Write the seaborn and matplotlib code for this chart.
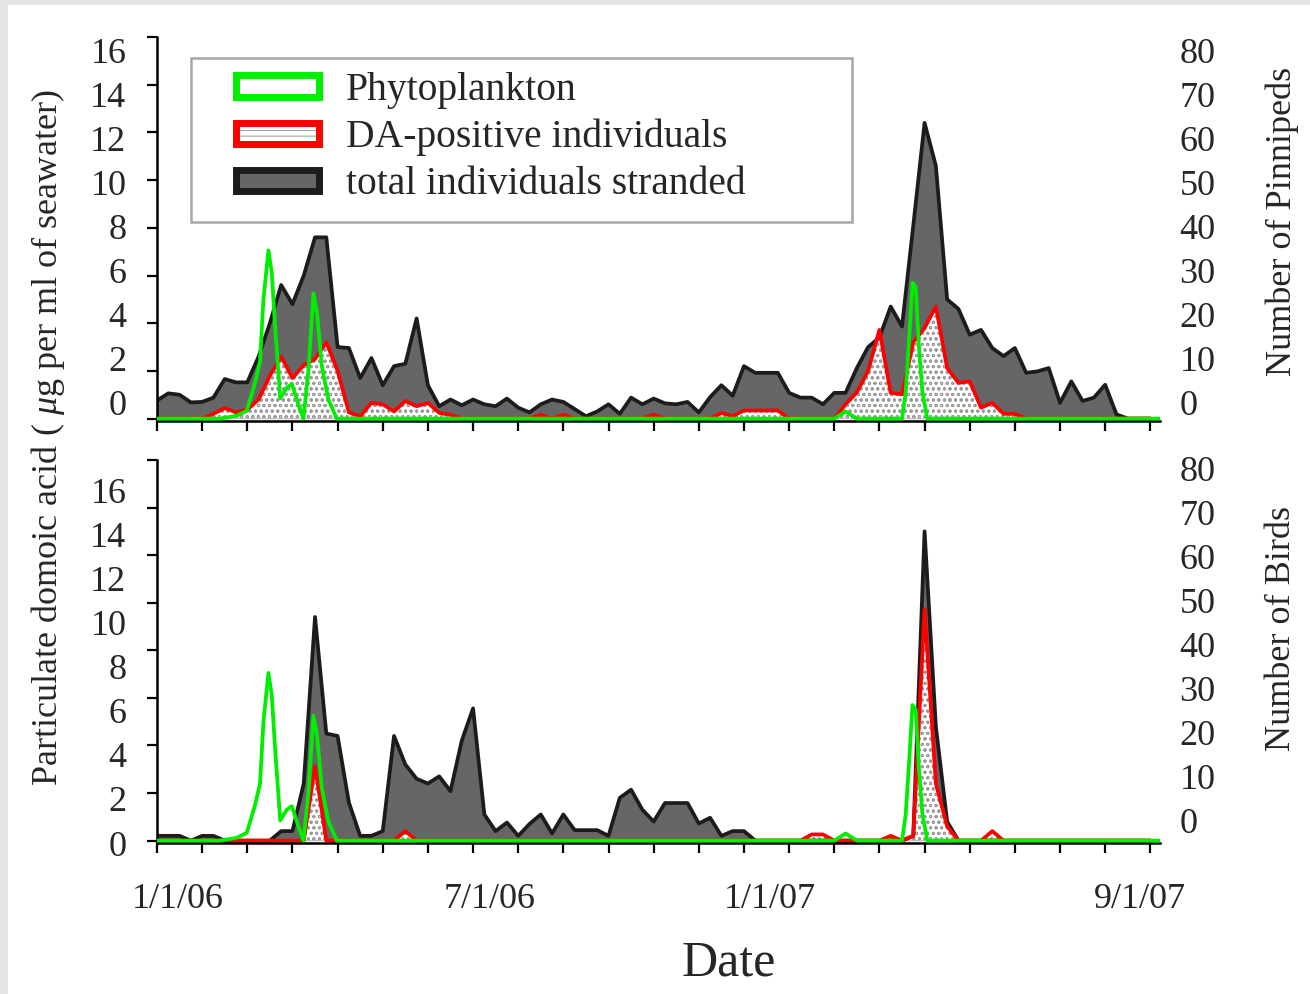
import pandas as pd
import seaborn as sns
import matplotlib.pyplot as plt
from matplotlib.patches import Patch, Rectangle
from matplotlib.legend_handler import HandlerTuple

# weekly stranding counts, starting 1/1/06
start = pd.Timestamp('2006-01-01')
pinniped_total = [3.8, 5.3, 5.0, 3.4, 3.5, 4.4, 8.3, 7.6, 7.6, 13, 20, 28, 24, 30, 38, 38, 15, 14.8, 8.5, 12.7,
                  7, 11, 11.5, 21, 7, 2.6, 4, 2.8, 4, 3, 2.6, 4.2, 2.3, 1.3, 3, 4, 3.5, 2, 0.5, 1.5,
                  3, 1, 4.4, 3, 4.2, 3.2, 3, 3.5, 1.3, 4.5, 7, 4.8, 11, 9.6, 9.6, 9.6, 5.4, 4.4, 4.4, 3,
                  5.4, 5.4, 10.6, 15, 17, 23.5, 19.3, 40.5, 62, 53, 25, 23, 17.6, 18.6, 14.8, 13.1, 14.8, 9.6, 9.9, 10.6,
                  3.3, 7.8, 3.7, 4.4, 7.1, 0.9, 0, 0, 0]
pinniped_da = [0, 0, 0, 0, 0, 1, 2.2, 1.3, 1.9, 4, 9, 13, 8.5, 11.2, 12.5, 16, 10, 1.3, 0.5, 3.3,
               3, 1.5, 3.7, 2.6, 3.3, 1.2, 0.8, 0, 0, 0, 0, 0, 0, 0, 0.8, 0, 0.8, 0, 0, 0,
               0, 0, 0, 0, 0.8, 0, 0, 0, 0, 0, 1.2, 0.5, 1.7, 1.7, 1.7, 1.7, 0, 0, 0, 0,
               0, 3, 5.5, 10, 18.6, 5.4, 5.1, 16, 19, 23.5, 10.6, 7.5, 7.8, 2.3, 3.3, 1, 1, 0, 0, 0,
               0, 0, 0, 0, 0, 0, 0, 0, 0]
bird_total = [1, 1, 1, 0, 1, 1, 0, 0, 0, 0, 0, 2, 2, 12, 47, 22.5, 22, 8, 1, 1,
              2, 22, 16, 13, 12, 13.5, 10.4, 21, 27.8, 5.5, 2, 3.8, 1, 3.5, 5.5, 1.5, 5.5, 2.2, 2.2, 2.2,
              1, 9, 10.7, 6.5, 4, 7.9, 7.9, 7.9, 3.6, 4.8, 1, 2, 2, 0, 0, 0, 0, 0, 0, 0,
              0, 0, 0, 0, 0, 0, 0, 1, 65, 24, 4, 0, 0, 0, 0, 0, 0, 0, 0, 0,
              0, 0, 0, 0, 0, 0, 0, 0, 0]
bird_da = [0, 0, 0, 0, 0, 0, 0, 0, 0, 0, 0, 0, 0, 0, 15.6, 0, 0, 0, 0, 0,
           0, 0, 2, 0, 0, 0, 0, 0, 0, 0, 0, 0, 0, 0, 0, 0, 0, 0, 0, 0,
           0, 0, 0, 0, 0, 0, 0, 0, 0, 0, 0, 0, 0, 0, 0, 0, 0, 0, 1.3, 1.3,
           0, 0, 0, 0, 0, 1, 0, 1, 48.6, 12, 3, 0, 0, 0, 2, 0, 0, 0, 0, 0,
           0, 0, 0, 0, 0, 0, 0, 0, 0]

# particulate domoic acid samples (days after 1/1/06)
phyto_day = [0, 39, 49.5, 55.7, 60.8, 63.9, 66, 69.1, 71.2, 73.2, 76.4, 80.5, 83.6, 87.7, 90.8, 93.9, 97,
             99.3, 102.2, 106.3, 111.5, 420, 427, 434, 462, 464.3, 466.4, 468.5, 470.5, 472.6, 474.7, 477.7, 622]
phyto_da = [0, 0, 0.12, 0.33, 1.5, 2.4, 5.0, 7.05, 6.1, 3.9, 0.85, 1.3, 1.45, 0.6, 0, 2.0, 5.25,
            4.4, 2.2, 0.8, 0, 0, 0.3, 0, 0, 1.1, 3.3, 5.7, 5.5, 2.9, 1.1, 0, 0]

date_labels = ['1/1/06', '7/1/06', '1/1/07', '9/1/07']
legend_labels = ['Phytoplankton', 'DA-positive individuals', 'total individuals stranded']

weeks = pd.date_range(start, periods=len(pinniped_total), freq='7D')
phyto_dates = start + pd.to_timedelta(phyto_day, unit='D')
tick_dates = pd.date_range(start, periods=23, freq='28D')

sns.set_style('ticks')
plt.rcParams['font.family'] = ['Liberation Serif', 'DejaVu Serif']
plt.rcParams['mathtext.fontset'] = 'custom'
plt.rcParams['mathtext.rm'] = 'Liberation Serif'
plt.rcParams['mathtext.it'] = 'Liberation Serif:italic'
plt.rcParams['hatch.linewidth'] = 0.7

GREEN = '#00ee00'
RED = '#ff0000'
GREY = '#666666'
DARK = '#1c1c1c'
HATCH = '#9a9a9a'
LW = 2.7

fig = plt.figure(figsize=(13.1, 9.94), dpi=100, facecolor='#e4e4e4')
fig.add_artist(Rectangle((8 / 1310, 0), 1, 1 - 5 / 994, transform=fig.transFigure,
                         facecolor='white', edgecolor='none', zorder=-10))

ax_top = fig.add_axes([157 / 1310, 1 - 421 / 994, 1003 / 1310, 384 / 994])
ax_bot = fig.add_axes([157 / 1310, 1 - 843 / 994, 1003 / 1310, 383 / 994])


def panel(ax, total, da):
    ax.fill_between(weeks, total, color=GREY, lw=0)
    sns.lineplot(x=weeks, y=total, ax=ax, color=DARK, lw=LW)
    ax.fill_between(weeks, da, facecolor='white', edgecolor=HATCH, hatch='ooo', lw=0)
    sns.lineplot(x=weeks, y=da, ax=ax, color=RED, lw=LW)
    ax.set_ylim(-0.5, 80)
    ax.set_xlim(start, start + pd.Timedelta(days=622))
    ax.set_xticks(tick_dates)
    ax.set_yticks(range(0, 81, 10))
    ax.tick_params(axis='both', direction='out', length=7, width=1.6, color='black',
                   labelbottom=False, labelleft=False)
    for s in ['top', 'right']:
        ax.spines[s].set_visible(False)
    for s in ['left', 'bottom']:
        ax.spines[s].set_linewidth(1.8)
        ax.spines[s].set_color('black')
    ax.set_xlabel('')
    ax.set_ylabel('')

    tw = ax.twinx()
    sns.lineplot(x=phyto_dates, y=phyto_da, ax=tw, color=GREEN, lw=LW)
    tw.set_ylim(-0.1, 16)
    tw.set_xlim(ax.get_xlim())
    tw.axis('off')


def tick_labels(ax, lo, hi, ticks, side, pad):
    lab = fig.add_axes(ax.get_position(), frameon=False)
    lab.patch.set_visible(False)
    lab.set_ylim(lo, hi)
    lab.set_xticks([])
    lab.set_yticks(ticks)
    lab.tick_params(axis='y', length=0, pad=pad, labelsize=26,
                    left=False, right=False,
                    labelleft=(side == 'left'), labelright=(side == 'right'))


panel(ax_top, pinniped_total, pinniped_da)
panel(ax_bot, bird_total, bird_da)

# tick labels sit where the original figure has them
tick_labels(ax_top, -0.817, 16.59, range(0, 17, 2), 'left', 22)
tick_labels(ax_top, -4.09, 82.96, range(0, 81, 10), 'right', 14)
tick_labels(ax_bot, 0, 17.36, range(0, 17, 2), 'left', 22)
tick_labels(ax_bot, -5.22, 81.83, range(0, 81, 10), 'right', 14)

for lbl, xf in zip(date_labels, [0.1359, 0.374, 0.588, 0.870]):
    fig.text(xf, 0.0946, lbl, ha='center', va='center', fontsize=26)
fig.text(0.556, 0.031, 'Date', ha='center', va='center', fontsize=36)
fig.text(0.0366, 0.560, 'Particulate domoic acid ( $\\mu$g per ml of seawater)',
         rotation=90, ha='center', va='center', fontsize=26)
fig.text(0.9786, 0.777, 'Number of Pinnipeds', rotation=90, ha='center', va='center', fontsize=26)
fig.text(0.9786, 0.368, 'Number of Birds', rotation=90, ha='center', va='center', fontsize=26)

# legend
fig.add_artist(Rectangle((191 / 1310, 1 - 222 / 994), 661 / 1310, 164 / 994, transform=fig.transFigure,
                         facecolor='white', edgecolor='#a6a6a6', lw=1.8, zorder=4))
h_phyto = Patch(facecolor='white', edgecolor=GREEN, lw=5)
h_da = (Patch(facecolor='white', edgecolor=HATCH, hatch='---', lw=0),
        Patch(facecolor='none', edgecolor=RED, lw=5))
h_tot = Patch(facecolor=GREY, edgecolor=DARK, lw=5)
fig.legend([h_phyto, h_da, h_tot], legend_labels, handler_map={tuple: HandlerTuple(ndivide=1)},
           loc='upper left', bbox_to_anchor=(235.5 / 1310, 1 - 72 / 994), frameon=False,
           borderpad=0, borderaxespad=0, handlelength=2.1, handleheight=0.45,
           handletextpad=0.7, labelspacing=0.25, fontsize=28.5)

fig.savefig('out.png', dpi=100)
